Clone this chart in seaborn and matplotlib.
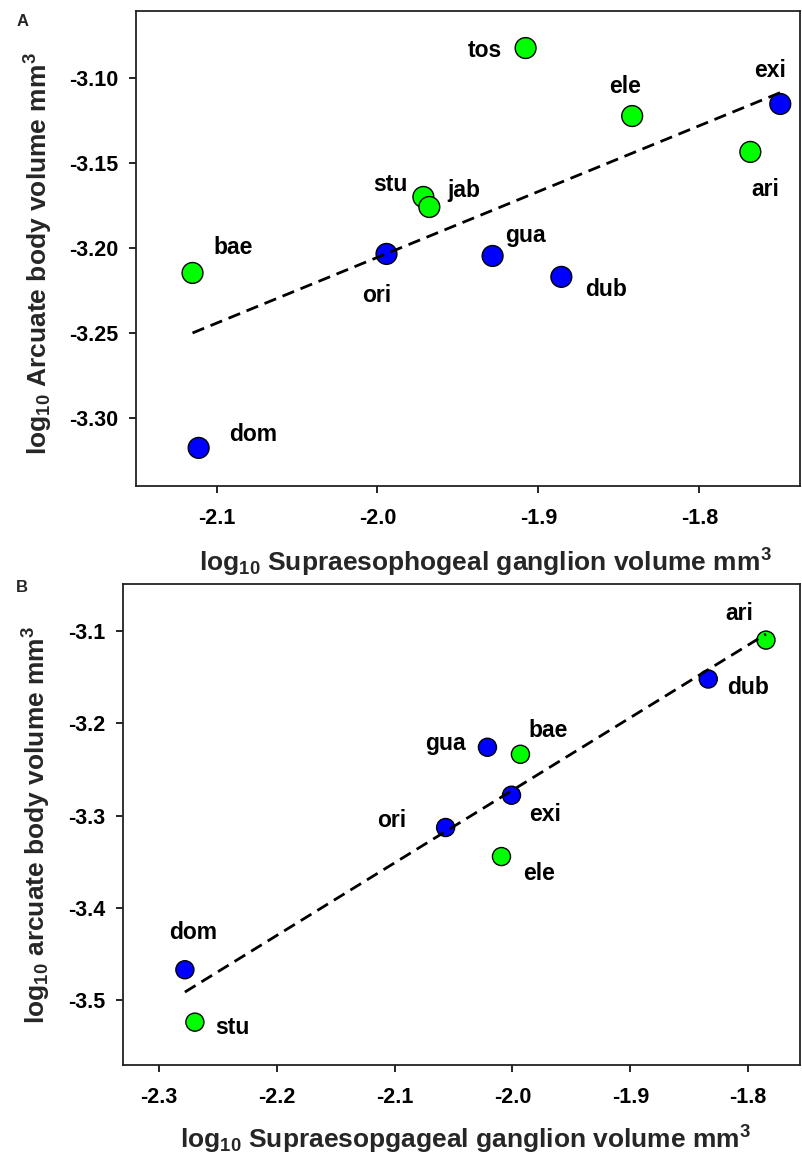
import numpy as np
import pandas as pd
import matplotlib
matplotlib.use("Agg")
import matplotlib.pyplot as plt
import seaborn as sns

# panel A: supraesophageal ganglion vs arcuate body
a_species = ["bae", "dom", "ori", "stu", "jab", "tos", "ele", "exi", "ari", "gua", "dub"]
a_x = [-2.1149, -2.1111, -1.9944, -1.9715, -1.9678, -1.9080, -1.8418, -1.7498, -1.7684, -1.9285, -1.8858]
a_y = [-3.2147, -3.3176, -3.2035, -3.1700, -3.1759, -3.0824, -3.1224, -3.1153, -3.1435, -3.2047, -3.2170]
a_group = ["green", "blue", "blue", "green", "green", "green", "green", "blue", "green", "blue", "blue"]

# panel B
b_species = ["ari", "dub", "bae", "gua", "exi", "ori", "ele", "dom", "stu"]
b_x = [-1.7848, -1.8338, -1.9932, -2.0212, -2.0008, -2.0567, -2.0093, -2.2780, -2.2695]
b_y = [-3.1098, -3.1520, -3.2336, -3.2260, -3.2780, -3.3130, -3.3445, -3.4672, -3.5240]
b_group = ["green", "blue", "green", "blue", "blue", "blue", "green", "blue", "green"]

a_xticks = [-2.1, -2.0, -1.9, -1.8]
a_yticks = [-3.30, -3.25, -3.20, -3.15, -3.10]
b_xticks = [-2.3, -2.2, -2.1, -2.0, -1.9, -1.8]
b_yticks = [-3.5, -3.4, -3.3, -3.2, -3.1]

palette = {"green": "#00ff00", "blue": "#0000ff"}

# label offsets in points (layout only)
a_offsets = {"bae": (29, 18), "dom": (39, 10), "ori": (-7, -30), "stu": (-24, 9),
             "jab": (25, 12), "tos": (-29, -2), "ele": (-5, 21), "exi": (-7, 24),
             "ari": (11, -27), "gua": (24, 15), "dub": (32, -9)}
b_offsets = {"ari": (-19, 19), "dub": (29, -6), "bae": (20, 17), "gua": (-30, 3),
             "exi": (24, -14), "ori": (-39, 5), "ele": (27, -12), "dom": (6, 27),
             "stu": (27, -4)}


def style():
    sns.set_theme(style="ticks")
    plt.rcParams.update({
        "font.family": ["Liberation Sans", "DejaVu Sans"],
        "font.weight": "bold",
        "mathtext.fontset": "custom",
        "mathtext.rm": "Liberation Sans:bold",
        "mathtext.it": "Liberation Sans:bold",
        "mathtext.bf": "Liberation Sans:bold",
        "mathtext.default": "rm",
        "axes.linewidth": 1.3,
        "axes.edgecolor": "#222222",
    })


def panel(ax, xs, ys, groups, names, offsets, size, xticks, yticks, xlim, ylim,
          xlabel, ylabel, yfmt):
    df = pd.DataFrame({"x": xs, "y": ys, "group": groups, "name": names})
    sns.scatterplot(data=df, x="x", y="y", hue="group", palette=palette, s=size,
                    edgecolor="black", linewidth=1.0, legend=False, ax=ax, zorder=2)
    sns.regplot(data=df, x="x", y="y", scatter=False, ci=None, ax=ax, color="black",
                line_kws={"linestyle": (0, (4.5, 2.5)), "linewidth": 2.0, "zorder": 3})
    for _, r in df.iterrows():
        ax.annotate(r["name"], (r["x"], r["y"]), xytext=offsets[r["name"]],
                    textcoords="offset points", ha="center", va="center",
                    fontsize=16.5, fontweight="bold", color="black")
    ax.set_xlim(*xlim)
    ax.set_ylim(*ylim)
    ax.set_xticks(xticks)
    ax.set_yticks(yticks)
    ax.set_xticklabels([f"{t:.1f}" for t in xticks])
    ax.set_yticklabels([yfmt.format(t) for t in yticks])
    ax.tick_params(direction="out", length=5, width=1.2, labelsize=15.5, colors="black")
    ax.tick_params(axis="x", pad=11)
    ax.tick_params(axis="y", pad=8)
    ax.set_xlabel(xlabel, fontsize=19, fontweight="bold")
    ax.set_ylabel(ylabel, fontsize=19, fontweight="bold")
    for s in ax.spines.values():
        s.set_visible(True)


def main():
    style()
    fig = plt.figure(figsize=(8.02, 11.56), dpi=100)
    ax_a = fig.add_axes([0.1696, 0.5796, 0.828, 0.4109])
    ax_b = fig.add_axes([0.1534, 0.0787, 0.844, 0.4161])

    panel(ax_a, a_x, a_y, a_group, a_species, a_offsets, 225, a_xticks, a_yticks,
          (-2.150, -1.7375), (-3.34, -3.0606),
          r"log$_{10}$ Supraesophogeal ganglion volume mm$^{3}$",
          r"log$_{10}$ Arcuate body volume mm$^{3}$", "{:.2f}")
    panel(ax_b, b_x, b_y, b_group, b_species, b_offsets, 169, b_xticks, b_yticks,
          (-2.3305, -1.756), (-3.5705, -3.049),
          r"log$_{10}$ Supraesopgageal ganglion volume mm$^{3}$",
          r"log$_{10}$ arcuate body volume mm$^{3}$", "{:.1f}")

    ax_a.xaxis.set_label_coords(0.5255, -0.128)
    ax_a.yaxis.set_label_coords(-0.122, 0.49)
    ax_b.xaxis.set_label_coords(0.5066, -0.123)
    ax_b.yaxis.set_label_coords(-0.103, 0.5)

    fig.text(23 / 802, 1 - 21 / 1156, "A", fontsize=12, fontweight="bold", ha="center", va="center")
    fig.text(22 / 802, 1 - 587 / 1156, "B", fontsize=12, fontweight="bold", ha="center", va="center")

    fig.savefig("out.png", dpi=100)
    plt.close(fig)


if __name__ == "__main__":
    main()
